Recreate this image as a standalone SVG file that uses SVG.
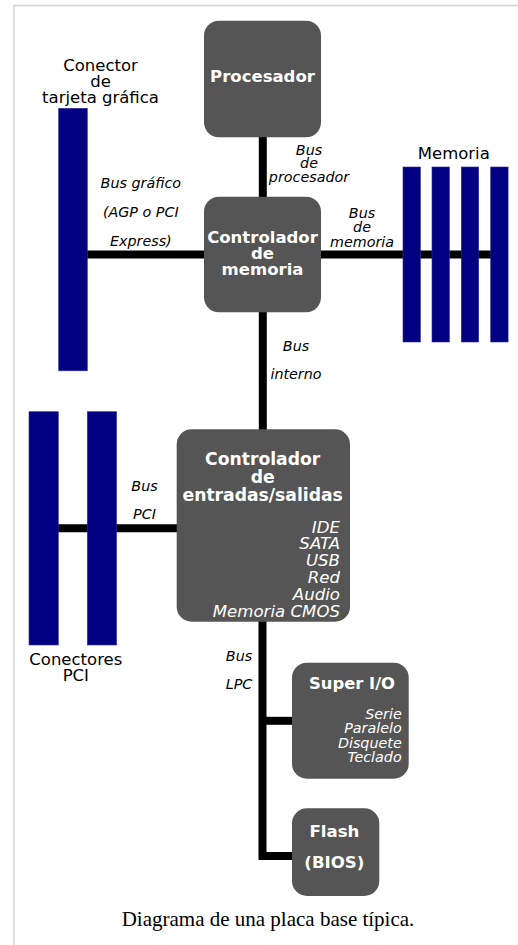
<svg xmlns="http://www.w3.org/2000/svg" width="518" height="945" viewBox="0 0 518 945">
<style>
.box{fill:#555555}
.bar{fill:#000080;stroke:#2f2fa0;stroke-width:0.6}
.bus{stroke:#000;stroke-width:8;fill:none;stroke-linejoin:miter}
text{font-family:"DejaVu Sans","Noto Sans",sans-serif}
.bt{fill:#fff;font-weight:bold;text-anchor:middle}
.it{fill:#fff;font-style:italic;text-anchor:end}
.lbl{fill:#000;font-style:italic;font-size:14.3px;text-anchor:middle}
.nm{fill:#000;font-size:16.5px;text-anchor:middle}
.cap{font-family:"Liberation Serif","Times New Roman",serif;font-size:21px;fill:#000;text-anchor:middle}
</style>
<rect x="0" y="0" width="518" height="945" fill="#fff"/>
<rect x="14" y="5.5" width="600" height="1000" fill="none" stroke="#d6d6d6" stroke-width="1.6"/>

<g id="connectors">
<line class="bus" x1="262.8" y1="135" x2="262.8" y2="199"/>
<line class="bus" x1="262.8" y1="310" x2="262.8" y2="431"/>
<line class="bus" x1="86" y1="254.5" x2="206" y2="254.5"/>
<line class="bus" x1="319" y1="254.5" x2="492" y2="254.5"/>
<line class="bus" x1="58" y1="528.3" x2="179" y2="528.3"/>
<path class="bus" d="M262.5,620 V856 H294"/>
<line class="bus" x1="262.5" y1="720.8" x2="294" y2="720.8"/>
</g>

<g id="graphics-connector">
<rect class="bar" x="58.7" y="108.3" width="28.6" height="262.5"/>
<text class="nm" x="100.5" y="71">Conector</text>
<text class="nm" x="100.5" y="87.3">de</text>
<text class="nm" x="100.5" y="103.3">tarjeta gráfica</text>
</g>

<g id="memory">
<rect class="bar" x="403" y="167" width="17.4" height="175"/>
<rect class="bar" x="432" y="167" width="17.4" height="175"/>
<rect class="bar" x="461.3" y="167" width="17.4" height="175"/>
<rect class="bar" x="490.7" y="167" width="17.4" height="175"/>
<text class="nm" x="453.8" y="159">Memoria</text>
</g>

<g id="pci-connectors">
<rect class="bar" x="29" y="411.7" width="29.3" height="233.3"/>
<rect class="bar" x="87.3" y="411.7" width="29.3" height="233.3"/>
<text class="nm" x="75.8" y="665">Conectores</text>
<text class="nm" x="75.8" y="681">PCI</text>
</g>

<g id="processor">
<rect class="box" x="204" y="20.7" width="117" height="116.6" rx="15"/>
<text class="bt" x="262.5" y="81.5" font-size="16.5">Procesador</text>
</g>

<g id="memory-controller">
<rect class="box" x="204" y="196.7" width="117" height="115.6" rx="15"/>
<text class="bt" x="262.5" y="242.5" font-size="16.5">Controlador</text>
<text class="bt" x="262.5" y="258.8" font-size="16.5">de</text>
<text class="bt" x="262.5" y="275" font-size="16.5">memoria</text>
</g>

<g id="io-controller">
<rect class="box" x="176.7" y="429.3" width="173.3" height="192.4" rx="15"/>
<text class="bt" x="262.7" y="465" font-size="17.2">Controlador</text>
<text class="bt" x="262.7" y="483" font-size="17.2">de</text>
<text class="bt" x="262.7" y="501" font-size="17.2">entradas/salidas</text>
<g font-size="16.6">
<text class="it" x="340" y="532.7">IDE</text>
<text class="it" x="340" y="549.4">SATA</text>
<text class="it" x="340" y="566.2">USB</text>
<text class="it" x="340" y="583">Red</text>
<text class="it" x="340" y="599.8">Audio</text>
<text class="it" x="340" y="616.6">Memoria CMOS</text>
</g>
</g>

<g id="super-io">
<rect class="box" x="292" y="662.7" width="116.7" height="116" rx="15"/>
<text class="bt" x="352" y="689.3" font-size="16.4">Super I/O</text>
<g font-size="14.3">
<text class="it" x="401.7" y="719.3">Serie</text>
<text class="it" x="401.7" y="733.4">Paralelo</text>
<text class="it" x="401.7" y="747.6">Disquete</text>
<text class="it" x="401.7" y="761.7">Teclado</text>
</g>
</g>

<g id="flash">
<rect class="box" x="292" y="808.3" width="87.3" height="87.7" rx="15"/>
<text class="bt" x="334.4" y="837.3" font-size="16.6">Flash</text>
<text class="bt" x="334.4" y="868" font-size="16.6">(BIOS)</text>
</g>

<g id="bus-labels">
<text class="lbl" x="309" y="155">Bus</text>
<text class="lbl" x="309" y="168.3">de</text>
<text class="lbl" x="309" y="181.7">procesador</text>
<text class="lbl" x="362" y="218.3">Bus</text>
<text class="lbl" x="362" y="232.3">de</text>
<text class="lbl" x="362" y="246.5">memoria</text>
<text class="lbl" x="140.8" y="188.3">Bus gráfico</text>
<text class="lbl" x="140.8" y="217.3">(AGP o PCI</text>
<text class="lbl" x="140.8" y="246">Express)</text>
<text class="lbl" x="296" y="350.7">Bus</text>
<text class="lbl" x="296" y="379.3">interno</text>
<text class="lbl" x="144.5" y="490.7">Bus</text>
<text class="lbl" x="144.5" y="519">PCI</text>
<text class="lbl" x="239" y="660.7">Bus</text>
<text class="lbl" x="239" y="689.3">LPC</text>
</g>

<text class="cap" x="268" y="925.5">Diagrama de una placa base típica.</text>
</svg>
